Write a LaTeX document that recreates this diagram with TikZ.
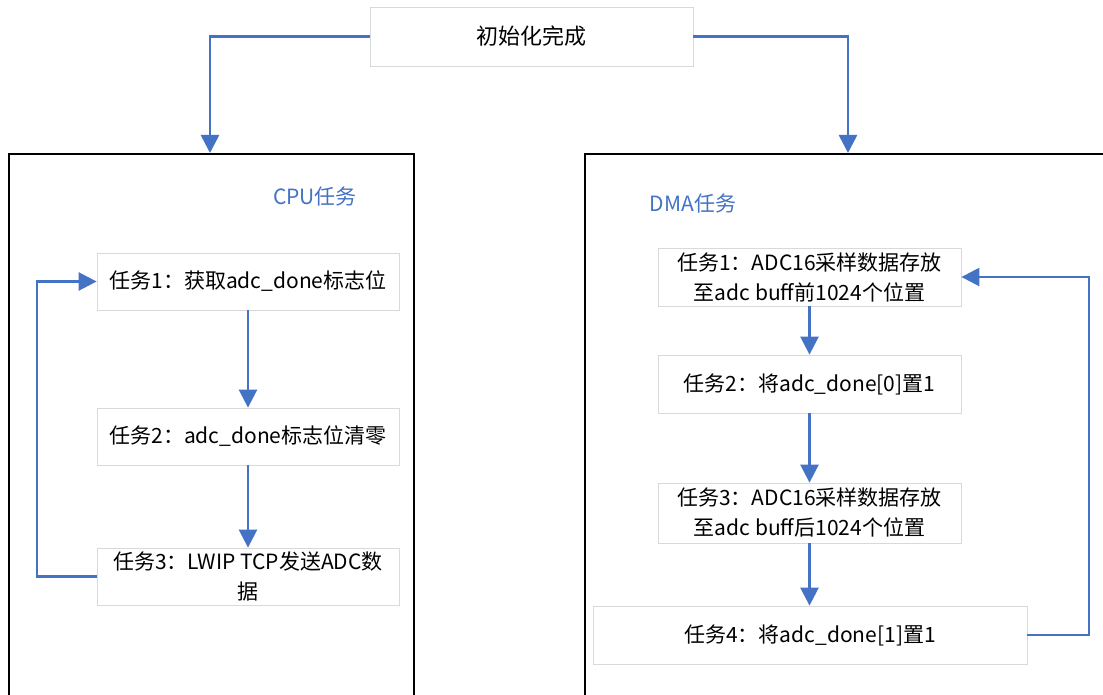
\documentclass[tikz,border=0pt]{standalone}
\usepackage{fontspec}
\setmainfont{Noto Sans CJK SC}
\usetikzlibrary{arrows.meta,positioning}
\definecolor{flowblue}{HTML}{4472C4}
\definecolor{boxgray}{HTML}{D9D9D9}
\tikzset{
  taskbox/.style={draw=boxgray, line width=0.8pt, fill=white, align=center, inner sep=0pt, font=\fontsize{21}{30}\selectfont},
  flow/.style={draw=flowblue, line width=2.6pt, -{Triangle[length=18pt,width=18pt]}},
  frame/.style={draw=black, line width=2pt},
  title/.style={text=flowblue, font=\fontsize{21}{24}\selectfont}
}
\begin{document}
\begin{tikzpicture}[x=1pt,y=-1pt]
\useasboundingbox (0,0) rectangle (1103,695);
\fill[white] (0,0) rectangle (1103,695);
% frames
\draw[frame] (9,696) -- (9,154) -- (414,154) -- (414,696);
\draw[frame] (585,696) -- (585,154) -- (1104,154);
\coordinate (cputop) at (210,153);
\coordinate (dmatop) at (848,153);
% top
\node[taskbox, minimum width=323pt, minimum height=59pt, font=\fontsize{22}{26}\selectfont] (init) at (531.5,36.5) {初始化完成};
\draw[flow] (init.west) -| (cputop);
\draw[flow] (init.east) -| (dmatop);
% titles
\node[title] (cputitle) at (315,197) {CPU任务};
\node[title] (dmatitle) at (693,204) {DMA任务};
% CPU tasks
\node[taskbox, minimum width=302pt, minimum height=57pt] (c1) at (248,281.5) {任务1：获取adc\_done标志位};
\node[taskbox, minimum width=302pt, minimum height=57pt] (c2) at (248,436.5) {任务2：adc\_done标志位清零};
\node[taskbox, minimum width=302pt, minimum height=57pt] (c3) at (248,576.5) {任务3：LWIP TCP发送ADC数\\据};
\draw[flow] (c1.south) -- (c2.north);
\draw[flow] (c2.south) -- (c3.north);
\coordinate (cl) at (37,0);
\draw[flow] (c3.west) -- (cl |- c3.west) -- (cl |- c1.west) -- (c1.west);
% DMA tasks
\node[taskbox, minimum width=303pt, minimum height=58pt] (d1) at (809.5,277) {任务1：ADC16采样数据存放\\至adc buff前1024个位置};
\node[taskbox, minimum width=303pt, minimum height=58pt] (d2) at (809.5,384) {任务2：将adc\_done[0]置1};
\node[taskbox, minimum width=303pt, minimum height=60pt] (d3) at (809.5,513) {任务3：ADC16采样数据存放\\至adc buff后1024个位置};
\node[taskbox, minimum width=434pt, minimum height=58pt] (d4) at (810,635) {任务4：将adc\_done[1]置1};
\draw[flow] (d1.south) -- (d2.north);
\draw[flow] (d2.south) -- (d3.north);
\draw[flow] (d3.south) -- (d1.south |- d4.north);
\coordinate (dr) at (1089,0);
\draw[flow] (d4.east) -- (dr |- d4.east) -- (dr |- d1.east) -- (d1.east);
\end{tikzpicture}
\end{document}
